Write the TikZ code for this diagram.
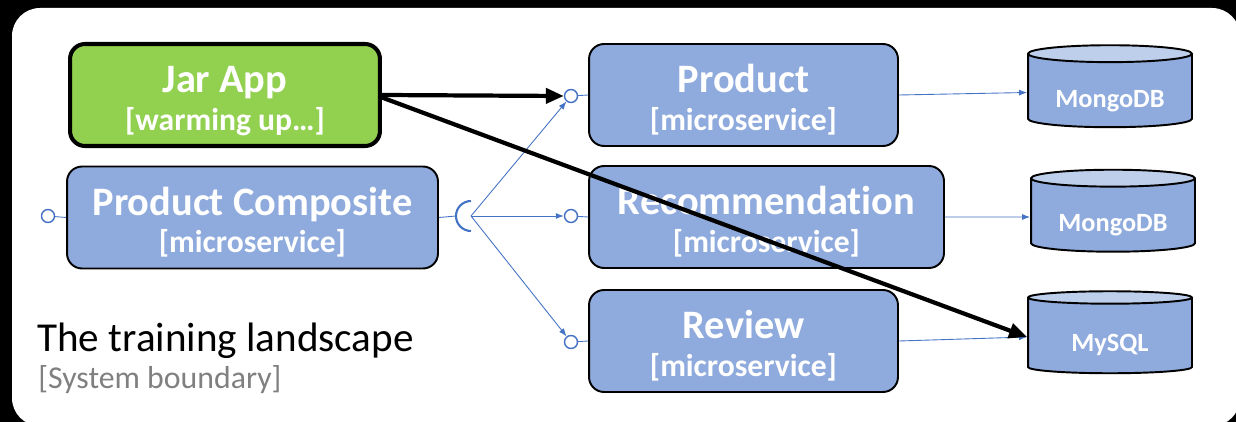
\documentclass[tikz,border=0pt]{standalone}
\usepackage{fontspec}
\setmainfont{Carlito}[Ligatures=NoCommon]
\usetikzlibrary{shapes.geometric,arrows.meta}
\definecolor{boxblue}{RGB}{143, 170, 220}
\definecolor{dbtop}{RGB}{190, 207, 236}
\definecolor{jargreen}{RGB}{146, 208, 80}
\definecolor{linkblue}{RGB}{68, 114, 196}
\definecolor{boundary}{RGB}{128, 128, 128}

\tikzset{
  service/.style={draw, line width=1.1pt, rounded corners=0.3cm, fill=boxblue,
    text=white, align=center, minimum height=2.04cm, inner ysep=1pt,
    font=\fontsize{18}{21.2}\selectfont\bfseries},
  jarbox/.style={service, line width=2.3pt, fill=jargreen},
  db/.style={cylinder, shape border rotate=90, draw, line width=1.1pt, aspect=0.14,
    cylinder uses custom fill, cylinder body fill=boxblue, cylinder end fill=dbtop,
    minimum width=3.28cm, minimum height=1.64cm, text=white,
    text height=16.8pt, text depth=0pt,
    font=\fontsize{15}{18}\selectfont\bfseries},
  port/.style={circle, draw=linkblue, fill=white, line width=0.8pt,
    minimum size=0.26cm, inner sep=0pt},
  link/.style={draw=linkblue, line width=0.5pt},
  call/.style={line width=2.4pt, -{Triangle[length=0.36cm, width=0.3cm]}}
}
\newcommand{\svc}[2]{{\fontsize{23}{21.2}\selectfont\rule{0pt}{24.7pt}#1}\\{}#2\rule[-6pt]{0pt}{6pt}}

\begin{document}
\begin{tikzpicture}[x=0.02cm, y=-0.02cm]
      % Boundary
      \fill[black] (0,0) rectangle (1236,422);
      \useasboundingbox (0,0) rectangle (1236,422);
      \fill[white, rounded corners=0.56cm] (12,8) rectangle (1240,426);
      \node[anchor=base west, inner sep=0pt, font=\fontsize{23.4}{27}\selectfont] (name) at (37,351) {The training landscape};
      \node[anchor=base west, inner sep=0pt, text=boundary, font=\fontsize{18.1}{21}\selectfont] (kind) at (38,388) {[System boundary]};

      % Services
      \node[jarbox, minimum width=6.2cm] (jar) at (225,95) {\svc{Jar App}{[warming up…]}};
      \node[service, minimum width=7.42cm] (comp) at (252.5,217.5) {\svc{Product Composite}{[microservice]}};
      \node[service, minimum width=6.18cm] (prod) at (743.5,95) {\svc{Product}{[microservice]}};
      \node[service, minimum width=7.1cm] (rec) at (766.5,217) {\svc{Recommendation}{[microservice]}};
      \node[service, minimum width=6.18cm] (rev) at (743.5,341) {\svc{Review}{[microservice]}};

      % Databases
      \node[db] (mongoprod) at (1110,92.5) {MongoDB};
      \node[db] (mongorec) at (1113,217) {MongoDB};
      \node[db] (mysql) at (1110,337) {MySQL};

      % Ports
      \node[port] (compport) at (48,216) {};
      \node[port] (prodport) at (571,96) {};
      \node[port] (recport) at (571,216) {};
      \node[port] (revport) at (571,342) {};
      \coordinate (sock) at (471,216);

      % Links
      \draw[link] (compport) -- (comp.west);
      \draw[link] (prodport) -- (prod.west);
      \draw[link] (recport) -- (rec.west);
      \draw[link] (revport) -- (rev.west);
      \draw[link] (comp.east) -- ([xshift=-0.3cm]sock);
      \draw[draw=linkblue, line width=1.2pt] (sock) ++(0,-15) arc[start angle=90, end angle=270, radius=0.3cm];
      \foreach \p in {prodport, recport, revport}
        \draw[link, -{Latex[length=0.16cm, width=0.12cm]}] (sock) -- (\p);
      \draw[link, -{Latex[length=0.16cm, width=0.12cm]}] (prod.east) -- (mongoprod.west);
      \draw[link, -{Latex[length=0.16cm, width=0.12cm]}] (rec.east) -- (mongorec.west);
      \draw[link, -{Latex[length=0.16cm, width=0.12cm]}] (rev.east) -- (mysql.west);

      % Jar App calls
      \draw[call] (jar.east) -- (prodport.west);
      \draw[call] ([yshift=-0.05cm]jar.east) -- (mysql.west);
    \end{tikzpicture}
\end{document}
